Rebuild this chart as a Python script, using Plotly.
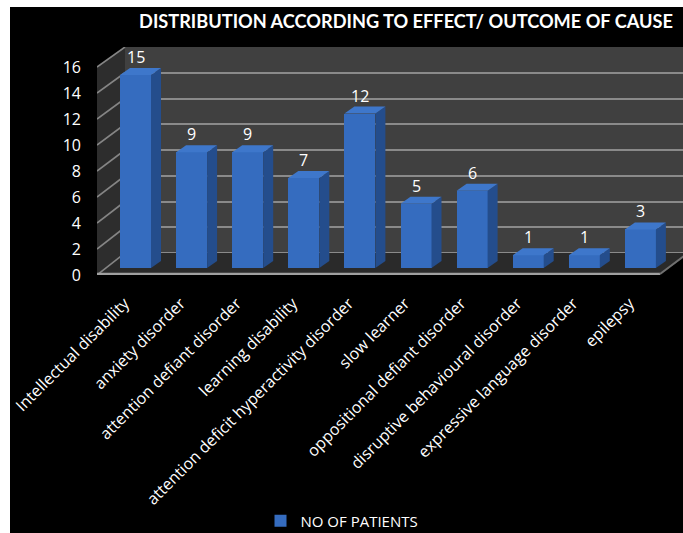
import plotly.graph_objects as go

# ---------------- data ----------------
categories = [
    "Intellectual disability",
    "anxiety disorder",
    "attention defiant disorder",
    "learning disability",
    "attention deficit hyperactivity disorder",
    "slow learner",
    "oppositional defiant disorder",
    "disruptive behavioural disorder",
    "expressive language disorder",
    "epilepsy",
]
patients = [15, 9, 9, 7, 12, 5, 6, 1, 1, 3]
series_name = "NO OF PATIENTS"
y_ticks = [0, 2, 4, 6, 8, 10, 12, 14, 16]
title_text = "DISTRIBUTION ACCORDING TO EFFECT/ OUTCOME OF CAUSE"

# ---------------- geometry (pixels) ----------------
W, H = 683, 533
L, R, T, B = 97, 683, 47, 275          # plot area
CAT0, CATSTEP = 135.5, 56.1            # bar centre px / category step
BAR_BASE, BAR_PX = 268.0, 12.87        # bar plane
FRONT_PX = 13.0                        # front plane (tick labels) px/unit, 0 at B
BACK_BASE, BACK_PX = 253.0, 12.875     # back wall plane
DEPTH_X, DEPTH_Y = 28.0, 21.0          # wall depth offset
BAR_W = 31.0 / CATSTEP
SIDE_DX, SIDE_DY = 10.0, 7.0           # bar depth

x_range = [(L - CAT0) / CATSTEP, (R - CAT0) / CATSTEP]
y_front_range = [0, (B - T) / FRONT_PX]
y_bar_range = [(BAR_BASE - B) / BAR_PX, (BAR_BASE - T) / BAR_PX]
y_back_range = [(BACK_BASE - B) / BACK_PX, (BACK_BASE - T) / BACK_PX + 0.001]


def fx(px):
    return x_range[0] + (px - L) / CATSTEP


def fy(py):
    return (B - py) / FRONT_PX


def px_paper_x(px):
    return (px - L) / (R - L)


def px_paper_y(py):
    return (B - py) / (B - T)


def poly(points):
    return "M " + " L ".join(f"{fx(a):.5f},{fy(b):.5f}" for a, b in points) + " Z"


FONT = "Open Sans"
BLUE_FRONT = "#356cbf"
BLUE_SIDE = "#244d8c"
BLUE_TOP = "#3e77cb"

fig = go.Figure()

xs = list(range(len(categories)))
fig.add_trace(go.Bar(
    x=xs, y=patients, width=BAR_W, name=series_name,
    marker=dict(color=BLUE_FRONT, line=dict(width=0)),
    yaxis="y3", showlegend=True,
))

shapes = []
# side wall
shapes.append(dict(type="path", xref="x", yref="y", layer="between",
                   path=poly([(L, 67), (L + DEPTH_X, T), (L + DEPTH_X, BACK_BASE), (L, B)]),
                   fillcolor="#2d2d2d", line=dict(width=0)))
# black corner above side wall
shapes.append(dict(type="path", xref="x", yref="y", layer="between",
                   path=poly([(L - 2, T - 3), (L + DEPTH_X + 1, T - 3), (L + DEPTH_X, T), (L, 67)]),
                   fillcolor="#000000", line=dict(width=0)))
# floor
shapes.append(dict(type="path", xref="x", yref="y", layer="between",
                   path=poly([(L, B), (L + DEPTH_X, BACK_BASE), (R + 10, BACK_BASE), (660, B)]),
                   fillcolor="#2a2a2a", line=dict(width=0)))
# black corner right of floor
shapes.append(dict(type="path", xref="x", yref="y", layer="between",
                   path=poly([(660, B), (660 + DEPTH_X, B - DEPTH_Y), (R + 5, B + 3), (660, B + 3)]),
                   fillcolor="#000000", line=dict(width=0)))
# side wall diagonal grid lines
for v in y_ticks:
    shapes.append(dict(type="line", xref="x", yref="y", layer="between",
                       x0=fx(L), y0=fy(B - FRONT_PX * v),
                       x1=fx(L + DEPTH_X), y1=fy(BACK_BASE - BACK_PX * v),
                       line=dict(color="#858585", width=1.6)))
# floor edges
shapes.append(dict(type="line", xref="x", yref="y", layer="between",
                   x0=fx(L), y0=fy(B - 1), x1=fx(660), y1=fy(B - 1),
                   line=dict(color="#a0a0a0", width=2.5)))
shapes.append(dict(type="line", xref="x", yref="y", layer="between",
                   x0=fx(660), y0=fy(B - 1), x1=fx(660 + DEPTH_X), y1=fy(B - 1 - DEPTH_Y),
                   line=dict(color="#707070", width=2)))

# bar depth faces
dx = SIDE_DX / CATSTEP
dy = SIDE_DY / BAR_PX
for i, v in enumerate(patients):
    xr = i + BAR_W / 2
    xl = i - BAR_W / 2
    shapes.append(dict(type="path", xref="x", yref="y3", layer="above",
                       path=f"M {xr},0 L {xr+dx},{dy} L {xr+dx},{v+dy} L {xr},{v} Z",
                       fillcolor=BLUE_SIDE, line=dict(width=0)))
    shapes.append(dict(type="path", xref="x", yref="y3", layer="above",
                       path=f"M {xl},{v} L {xl+dx},{v+dy} L {xr+dx},{v+dy} L {xr},{v} Z",
                       fillcolor=BLUE_TOP, line=dict(width=0)))

# white image border (left and top)
shapes.append(dict(type="rect", xref="paper", yref="paper", layer="above",
                   x0=px_paper_x(-5), x1=px_paper_x(10), y0=px_paper_y(H + 20), y1=px_paper_y(-20),
                   fillcolor="white", line=dict(width=0)))
shapes.append(dict(type="rect", xref="paper", yref="paper", layer="above",
                   x0=px_paper_x(-5), x1=px_paper_x(W + 20), y0=px_paper_y(7), y1=px_paper_y(-20),
                   fillcolor="white", line=dict(width=0)))

annotations = []
for i, v in enumerate(patients):
    annotations.append(dict(x=i, y=v, xref="x", yref="y3", text=str(v),
                            showarrow=False, yshift=18, yanchor="middle",
                            font=dict(family=FONT, size=16, color="white")))

fig.update_layout(
    width=W, height=H,
    margin=dict(l=L, r=W - R, t=T, b=H - B, pad=0, autoexpand=False),
    paper_bgcolor="black",
    plot_bgcolor="#404040",
    title=dict(text=f"<b>{title_text}</b>", xref="container", yref="container",
               x=406 / W, xanchor="center", y=1 - 22 / H, yanchor="middle",
               font=dict(family="Lato", size=18.2, color="white")),
    xaxis=dict(range=x_range, tickvals=xs, ticktext=categories, tickangle=-45,
               showgrid=False, zeroline=False, showline=False, ticks="",
               ticklabelstandoff=15, ticklabelshift=-11,
               tickfont=dict(family=FONT, size=16, color="white")),
    yaxis=dict(range=y_front_range, tickvals=y_ticks, showgrid=False, zeroline=False,
               showline=False, ticks="", ticklabelstandoff=15,
               tickfont=dict(family=FONT, size=16, color="white")),
    yaxis3=dict(range=y_bar_range, overlaying="y", visible=False),
    yaxis4=dict(range=y_back_range, overlaying="y", showticklabels=False, ticks="",
                tickvals=y_ticks, showgrid=True, gridcolor="#8a8a8a", gridwidth=2,
                zeroline=False, showline=False),
    showlegend=True,
    legend=dict(orientation="h", x=px_paper_x(342), xanchor="center",
                y=px_paper_y(521), yanchor="middle", bgcolor="rgba(0,0,0,0)",
                font=dict(family=FONT, size=15, color="white")),
    shapes=shapes,
    annotations=annotations,
    bargap=0,
)

fig.add_trace(go.Scatter(x=[None], y=[None], yaxis="y4", showlegend=False, hoverinfo="skip"))

fig.write_html("out.html")
